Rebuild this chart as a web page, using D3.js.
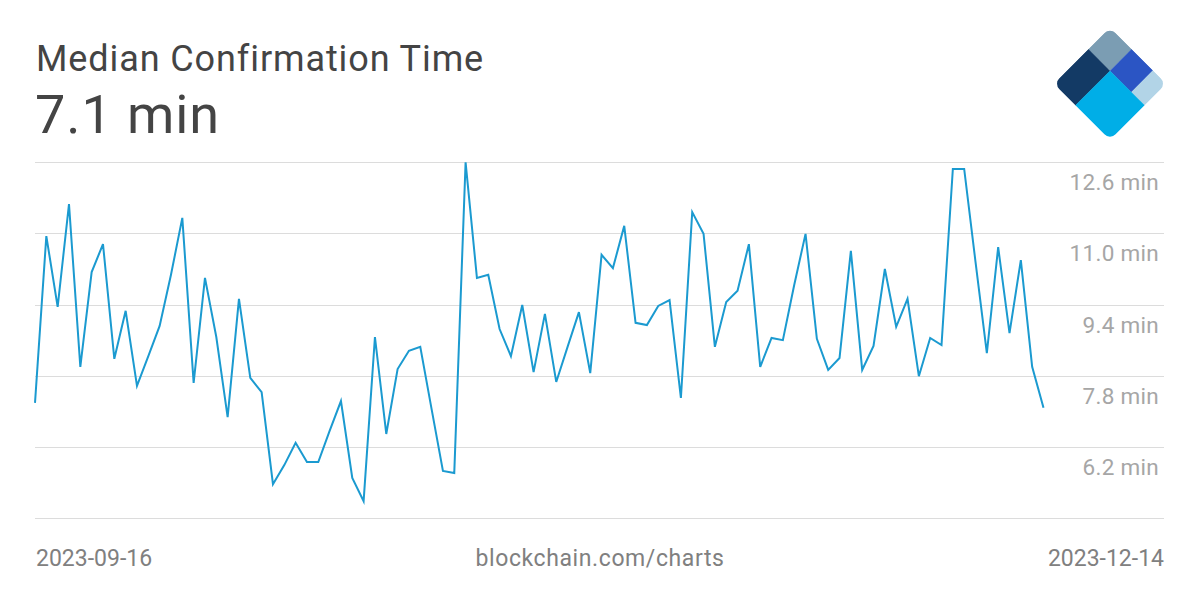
<!DOCTYPE html>
<html>
<head>
<meta charset="utf-8">
<script src="https://cdn.jsdelivr.net/npm/d3@7"></script>
<style>
  html, body { margin: 0; padding: 0; background: #fff; }
  svg { display: block; font-family: Roboto, "Open Sans", sans-serif; }
</style>
</head>
<body>
<svg id="chart" width="1200" height="600"></svg>
<script>
// ---- data ----
const title = "Median Confirmation Time";
const currentValue = "7.1 min";
const startDate = "2023-09-16";
const endDate = "2023-12-14";
const sourceLabel = "blockchain.com/charts";
const yTicks = [4.6, 6.2, 7.8, 9.4, 11.0, 12.6];
const yTickLabels = ["", "6.2 min", "7.8 min", "9.4 min", "11.0 min", "12.6 min"];
const values = [
  7.19, 10.94, 9.35, 11.66, 8.00, 10.13, 10.76, 8.18, 9.26, 7.57,
  8.24, 8.92, 10.07, 11.35, 7.64, 10.00, 8.67, 6.87, 9.53, 7.75,
  7.43, 5.36, 5.79, 6.29, 5.86, 5.86, 6.56, 7.23, 5.50, 4.98,
  8.67, 6.49, 7.95, 8.36, 8.45, 7.05, 5.66, 5.61, 12.60, 10.00,
  10.07, 8.85, 8.24, 9.39, 7.88, 9.19, 7.66, 8.45, 9.23, 7.86,
  10.52, 10.22, 11.17, 8.99, 8.94, 9.37, 9.50, 7.30, 11.48, 10.99,
  8.45, 9.46, 9.71, 10.76, 8.00, 8.65, 8.60, 9.84, 10.99, 8.63,
  7.93, 8.20, 10.61, 7.93, 8.47, 10.20, 8.90, 9.53, 7.79, 8.65,
  8.49, 12.45, 12.45, 10.36, 8.31, 10.69, 8.76, 10.40, 8.00, 7.08
];

// ---- build ----
const parse = d3.utcParse("%Y-%m-%d");
const t0 = parse(startDate);
const dates = values.map((v, i) => d3.utcDay.offset(t0, i));
const series = values.map((v, i) => ({ date: dates[i], value: v }));

const svg = d3.select("#chart");

const x = d3.scaleUtc()
  .domain([t0, parse(endDate)])
  .range([35, 1043.5]);
const y = d3.scaleLinear()
  .domain([4.6, 12.6])
  .range([518, 162.3]);

// Gridlines
svg.append("g")
  .selectAll("line")
  .data(yTicks)
  .join("line")
  .attr("x1", 35)
  .attr("x2", 1164)
  .attr("y1", d => Math.round(y(d)) + 0.5)
  .attr("y2", d => Math.round(y(d)) + 0.5)
  .attr("stroke", "#dcdcdc")
  .attr("stroke-width", 1);

// Y labels (below each gridline)
svg.append("g")
  .selectAll("text")
  .data(yTicks.map((t, i) => ({ t, label: yTickLabels[i] })).filter(d => d.label))
  .join("text")
  .attr("x", 1159)
  .attr("y", d => y(d.t) + 28)
  .attr("text-anchor", "end")
  .attr("font-size", 22.5)
  .attr("letter-spacing", 0.3)
  .attr("fill", "#a6a6a6")
  .text(d => d.label);

// Line
const line = d3.line()
  .x(d => x(d.date))
  .y(d => y(d.value));
svg.append("path")
  .datum(series)
  .attr("d", line)
  .attr("fill", "none")
  .attr("stroke", "#1b9ad0")
  .attr("stroke-width", 2)
  .attr("stroke-linejoin", "miter");

// Titles
svg.append("text")
  .attr("x", 36).attr("y", 70.5)
  .attr("font-size", 36)
  .attr("letter-spacing", 0.9)
  .attr("fill", "#444")
  .text(title);
svg.append("text")
  .attr("x", 35).attr("y", 132.5)
  .attr("font-size", 54)
  .attr("letter-spacing", 0.9)
  .attr("fill", "#444")
  .text(currentValue);

// Bottom labels
svg.append("text")
  .attr("x", 36).attr("y", 566)
  .attr("font-size", 23)
  .attr("fill", "#808080")
  .text(startDate);
svg.append("text")
  .attr("x", 600).attr("y", 566)
  .attr("text-anchor", "middle")
  .attr("font-size", 23)
  .attr("letter-spacing", 0.6)
  .attr("fill", "#808080")
  .text(sourceLabel);
svg.append("text")
  .attr("x", 1164).attr("y", 566)
  .attr("text-anchor", "end")
  .attr("font-size", 23)
  .attr("fill", "#808080")
  .text(endDate);

// Logo
const S = 79.6, a = 30.6, b = 60.7;
const defs = svg.append("defs");
defs.append("clipPath").attr("id", "logoClip")
  .append("rect").attr("x", 0).attr("y", 0).attr("width", S).attr("height", S).attr("rx", 8).attr("ry", 8);
const logo = svg.append("g")
  .attr("transform", "translate(1110,27.4) rotate(45)")
  .attr("clip-path", "url(#logoClip)");
const pieces = [
  { x: 0, y: 0, w: a, h: a, c: "#7b9db3" },
  { x: 0, y: a, w: a, h: S - a, c: "#133a65" },
  { x: a, y: 0, w: b - a, h: a, c: "#2b55c4" },
  { x: b, y: 0, w: S - b, h: a, c: "#b2d4e7" },
  { x: a, y: a, w: S - a, h: S - a, c: "#00aee7" }
];
logo.selectAll("rect").data(pieces).join("rect")
  .attr("x", d => d.x).attr("y", d => d.y)
  .attr("width", d => d.w + 0.3).attr("height", d => d.h + 0.3)
  .attr("fill", d => d.c);
</script>
</body>
</html>
